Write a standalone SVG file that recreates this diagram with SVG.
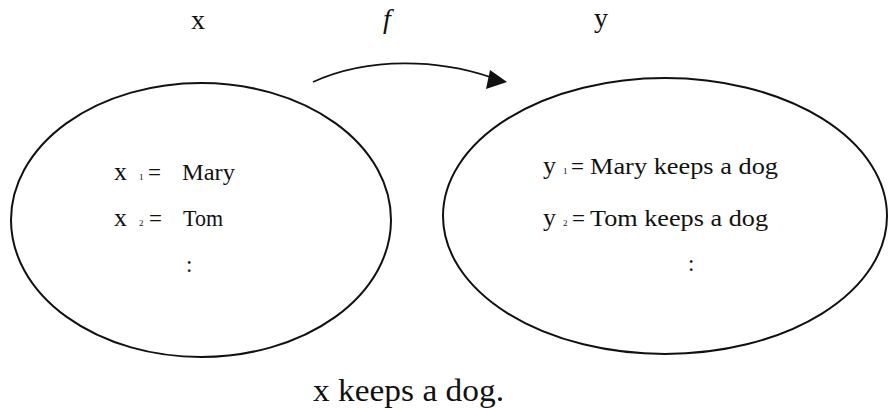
<svg xmlns="http://www.w3.org/2000/svg" width="890" height="410" viewBox="0 0 890 410">
<style>
text{font-family:"Liberation Serif","DejaVu Serif",serif;fill:#111}
.t{font-size:23px}
.v{font-size:26px}
.s{font-size:9px}
.e{fill:none;stroke:#111;stroke-width:2}
</style>
<rect width="890" height="410" fill="#fff"/>
<g id="labels">
<text x="198" y="29" font-size="28" text-anchor="middle">x</text>
<text x="387" y="28" font-size="28" font-style="italic" text-anchor="middle">f</text>
<text x="601" y="27" font-size="28" text-anchor="middle">y</text>
<text x="313" y="401" font-size="32" textLength="191" lengthAdjust="spacingAndGlyphs">x keeps a dog.</text>
</g>
<g id="connectors">
<path d="M313,82 C370,56 440,60 490,77" fill="none" stroke="#111" stroke-width="1.6"/>
<path d="M507,82 L486,89 L490,70 z" fill="#111"/>
</g>
<g id="setX">
<ellipse class="e" cx="201" cy="220" rx="190" ry="137"/>
<text class="v" x="114" y="180">x</text><text class="s" x="139" y="180">1</text><text class="t" x="148" y="180">=</text><text class="t" x="182" y="180" textLength="53" lengthAdjust="spacingAndGlyphs">Mary</text>
<text class="v" x="114" y="226">x</text><text class="s" x="139" y="226">2</text><text class="t" x="149" y="226">=</text><text class="t" x="183" y="226" textLength="40" lengthAdjust="spacingAndGlyphs">Tom</text>
<text class="t" x="186" y="272" font-size="16">:</text>
</g>
<g id="setY">
<ellipse class="e" cx="665" cy="216" rx="222" ry="138"/>
<text class="v" x="543" y="174">y</text><text class="s" x="563" y="174">1</text><text class="t" x="571" y="174">=</text><text class="t" x="590" y="174" textLength="188" lengthAdjust="spacingAndGlyphs">Mary keeps a dog</text>
<text class="v" x="543" y="226">y</text><text class="s" x="563" y="226">2</text><text class="t" x="572" y="226">=</text><text class="t" x="590" y="226" textLength="178" lengthAdjust="spacingAndGlyphs">Tom keeps a dog</text>
<text class="t" x="688" y="271" font-size="16">:</text>
</g>
</svg>
